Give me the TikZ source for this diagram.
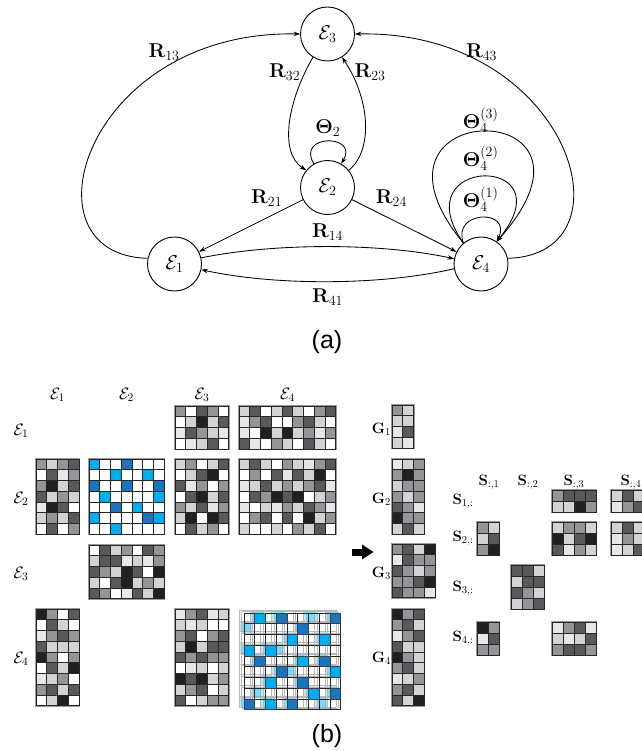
\RequirePackage{fix-cm}
\documentclass[tikz,border=0pt]{standalone}
\usepackage[no-math]{fontspec}
\newfontfamily\capfont{Liberation Sans}
\usetikzlibrary{arrows.meta}

% grey levels and blues used in the cell matrices
\definecolor{c0}{HTML}{FFFFFF}
\definecolor{c1}{HTML}{E6E7E8}
\definecolor{c2}{HTML}{D1D3D4}
\definecolor{c3}{HTML}{939598}
\definecolor{c4}{HTML}{58595B}
\definecolor{c5}{HTML}{231F20}
\definecolor{c6}{HTML}{00AEEF}
\definecolor{c7}{HTML}{1C75BC}

\def\cellsz{10.75}

% #1,#2 top-left corner; #3 columns; #4 rows; #5 cell values, row by row
\newcommand{\cellmat}[5]{%
  \draw[matframe] (#1,#2) rectangle ++({#3*\cellsz},{#4*\cellsz});
  \foreach \rw [count=\rowi from 0] in {#5} {
    \foreach \cv [count=\coli from 0] in \rw {
      \filldraw[cellline, fill=c\cv] ({#1+\coli*\cellsz},{#2+\rowi*\cellsz}) rectangle ++(\cellsz,\cellsz);
    }
  }
}

\tikzset{
  ent/.style={circle, draw, line width=0.9pt, minimum size=54pt,
    inner sep=0pt, font=\fontsize{20}{24}\selectfont},
  rel/.style={line width=0.85pt, -{Stealth[length=6.5pt,width=4.5pt]}},
  glab/.style={inner sep=0pt, font=\fontsize{20}{24}\selectfont},
  hdr/.style={inner sep=0pt, font=\fontsize{16.5}{20}\selectfont},
  mlab/.style={inner sep=0pt, font=\fontsize{15}{18}\selectfont},
  slab/.style={inner sep=0pt, font=\fontsize{15}{18}\selectfont},
  captext/.style={inner sep=0pt, font=\capfont\fontsize{25}{30}\selectfont},
  matframe/.style={draw=black!40, line width=2.2pt},
  cellline/.style={draw=black!85, line width=0.75pt},
  ghost/.style={draw=black!28, line width=0.5pt},
}

\begin{document}
\begin{tikzpicture}[x=1pt,y=-1pt]
\fill[white] (0,0) rectangle (641,751);
\useasboundingbox (0,0) rectangle (641,751);

% ---------------- (a) entity graph ----------------
\node[ent] (E3) at (327.5,34) {$\mathcal{E}_3$};
\node[ent] (E2) at (327.5,187.5) {$\mathcal{E}_2$};
\node[ent] (E1) at (174.5,264) {$\mathcal{E}_1$};
\node[ent] (E4) at (481,264) {$\mathcal{E}_4$};

\draw[rel] (E1.168) .. controls +(-129.6,-3) and +(-214.8,-4) .. (E3.180);
\draw[rel] (E4.12) .. controls +(129.6,-3) and +(214.8,-4) .. (E3.0);
\draw[rel] (E3.238) .. controls +(-24.5,42) and +(-28.2,-18) .. (E2.141);
\draw[rel] (E2.39) .. controls +(24.5,-20) and +(28.2,42) .. (E3.302);
\draw[rel] (E2.120) .. controls +(-18,-30) and +(18,-30) .. (E2.60);
\draw[rel] (E2) -- (E1);
\draw[rel] (E2) -- (E4);
\draw[rel] (E1.13) .. controls +(73.5,-15) and +(-73.5,-16) .. (E4.169);
\draw[rel] (E4.190) .. controls +(-73.5,17) and +(73.5,16) .. (E1.348);
\draw[rel] (E4.130) .. controls +(-12,-33) and +(16,-33) .. (E4.55);
\draw[rel] (E4.130) .. controls +(-62,-88) and +(72,-88) .. (E4.55);
\draw[rel] (E4.130) .. controls +(-122,-148) and +(132,-148) .. (E4.55);

\node[glab] (l13) at (164,52) {$\mathbf{R}_{13}$};
\node[glab] (l43) at (481.6,52) {$\mathbf{R}_{43}$};
\node[glab] (l32) at (284.7,72.5) {$\mathbf{R}_{32}$};
\node[glab] (l23) at (370,72.5) {$\mathbf{R}_{23}$};
\node[glab] (t2) at (327.8,128) {$\mathbf{\Theta}_2$};
\node[glab] (l21) at (266.7,198) {$\mathbf{R}_{21}$};
\node[glab] (l24) at (391.4,198) {$\mathbf{R}_{24}$};
\node[glab] (l14) at (327.6,232) {$\mathbf{R}_{14}$};
\node[glab] (l41) at (327.6,297) {$\mathbf{R}_{41}$};
\node[glab] (t43) at (480.6,120) {$\mathbf{\Theta}_4^{(3)}$};
\node[glab] (t42) at (480.6,158) {$\mathbf{\Theta}_4^{(2)}$};
\node[glab] (t41) at (480.6,199) {$\mathbf{\Theta}_4^{(1)}$};

\node[captext] (capa) at (327,342) {(a)};

% ---------------- (b) block matrices ----------------
\node[hdr] (h1) at (57.5,395) {$\mathcal{E}_1$};
\node[hdr] (h2) at (126.5,395) {$\mathcal{E}_2$};
\node[hdr] (h3) at (202,395) {$\mathcal{E}_3$};
\node[hdr] (h4) at (287.5,395) {$\mathcal{E}_4$};
\node[hdr] (v1) at (21,431) {$\mathcal{E}_1$};
\node[hdr] (v2) at (21,499) {$\mathcal{E}_2$};
\node[hdr] (v3) at (21,574) {$\mathcal{E}_3$};
\node[hdr] (v4) at (21,659) {$\mathcal{E}_4$};

% row E1
\cellmat{175}{406}{5}{4}{{3,0,4,3,0},{0,2,5,2,4},{1,4,3,2,1},{0,1,2,4,0}}
\cellmat{239}{406}{9}{4}{{2,4,0,2,4,2,0,3,4},{1,3,4,0,0,3,4,2,0},{1,0,5,2,5,2,3,1,3},{4,1,0,3,2,0,4,2,0}}
% row E2
\cellmat{36}{459}{4}{7}{{3,2,3,4},{0,4,1,3},{3,5,2,4},{4,2,3,2},{1,5,4,0},{2,3,2,4},{0,4,0,3}}
\cellmat{89}{459}{7}{7}{{6,0,0,7,0,0,0},{0,0,6,0,0,6,0},{7,0,0,7,0,0,7},{0,6,0,0,0,0,6},{0,0,7,0,6,0,0},{6,0,0,0,0,7,6},{0,0,6,0,0,0,0}}
\cellmat{175}{459}{5}{7}{{2,3,0,2,4},{0,2,4,5,0},{4,1,3,0,3},{0,4,5,2,4},{3,2,4,1,3},{2,5,0,5,4},{0,4,2,3,0}}
\cellmat{239}{459}{9}{7}{{2,4,2,0,3,2,1,3,4},{0,3,0,4,1,4,2,5,0},{1,2,4,2,3,2,3,4,1},{0,4,3,5,4,5,0,2,3},{1,0,2,1,3,2,4,3,1},{0,3,4,0,4,0,5,2,3},{2,0,0,2,0,3,2,4,0}}
% row E3
\cellmat{89}{545}{7}{5}{{0,4,2,3,0,4,3},{2,4,4,1,2,1,3},{4,3,2,5,4,0,5},{2,0,4,5,2,3,2},{4,3,0,1,4,2,5}}
% row E4
\cellmat{36}{609}{4}{9}{{5,3,0,4},{0,4,2,0},{1,3,4,3},{4,2,2,2},{5,3,0,3},{0,4,2,5},{1,2,3,0},{3,4,2,4},{0,2,5,0}}
\cellmat{175}{609}{5}{9}{{1,3,4,1,2},{2,1,2,0,0},{3,4,0,3,4},{2,5,2,4,4},{4,3,4,3,3},{0,1,2,0,2},{5,4,5,2,3},{2,3,4,0,2},{4,0,2,3,3}}

% E4-E4 block: stacked frames, earlier ones faint
\foreach \dx/\dy in {-5/-3,-2.5/-1.5} {
  \foreach \c/\r in {1/0,3/0,8/0,5/1,4/2,7/2,0/3,2/3,1/4,5/4,7/4,3/5,8/5,2/6,5/6,6/7,8/7,0/8,2/8,4/8,0/1,6/0,3/3,4/5,1/7,7/8} {
    \fill[c6, opacity=0.28] ({244+\dx+\c*\cellsz},{613+\dy+\r*\cellsz}) rectangle ++(\cellsz,\cellsz);
  }
  \foreach \k in {0,...,9} {
    \draw[ghost] ({244+\dx+\k*\cellsz},{613+\dy}) -- ++(0,{9*\cellsz});
    \draw[ghost] ({244+\dx},{613+\dy+\k*\cellsz}) -- ++({9*\cellsz},0);
  }
}
\foreach \k in {0,...,9} {
  \draw[black!85, line width=0.6pt] ({244+\k*\cellsz},613) -- ++(0,{9*\cellsz});
  \draw[black!85, line width=0.6pt] (244,{613+\k*\cellsz}) -- ++({9*\cellsz},0);
}
\foreach \c/\r/\col in {1/0/c6,3/0/c7,8/0/c7,5/1/c7,4/2/c6,7/2/c6,0/3/c6,2/3/c6,1/4/c7,5/4/c6,7/4/c7,3/5/c7,8/5/c6,2/6/c6,5/6/c7,6/7/c6,8/7/c7,0/8/c7,2/8/c6,4/8/c7} {
  \filldraw[draw=black!75, line width=0.6pt, fill=\col] ({244+\c*\cellsz},{613+\r*\cellsz}) rectangle ++(\cellsz,\cellsz);
}

% arrow towards the factors
\fill (352,548.5) rectangle (363.5,555.5);
\fill (362,544.5) -- (373.5,552) -- (362,559.5) -- cycle;

% G factors
\node[mlab, anchor=east] (g1) at (391,429) {$\mathbf{G}_1$};
\node[mlab, anchor=east] (g2) at (391,499) {$\mathbf{G}_2$};
\node[mlab, anchor=east] (g3) at (391,573) {$\mathbf{G}_3$};
\node[mlab, anchor=east] (g4) at (391,658) {$\mathbf{G}_4$};
\cellmat{392}{405}{2}{4}{{3,2},{2,2},{1,4},{2,1}}
\cellmat{392}{459}{3}{7}{{1,2,3},{3,5,3},{2,3,3},{3,2,3},{4,3,1},{5,3,3},{2,4,2}}
\cellmat{392}{544}{4}{5}{{3,4,2,5},{1,4,3,3},{4,3,2,3},{3,3,4,5},{4,3,3,1}}
\cellmat{392}{609}{3}{9}{{5,3,4},{3,4,2},{1,3,4},{4,2,2},{5,3,2},{3,4,2},{1,2,3},{3,4,2},{4,2,5}}

% S blocks
\node[slab] (s1) at (489,482) {$\mathbf{S}_{:,1}$};
\node[slab] (s2) at (528,482) {$\mathbf{S}_{:,2}$};
\node[slab] (s3) at (574,482) {$\mathbf{S}_{:,3}$};
\node[slab] (s4) at (631,482) {$\mathbf{S}_{:,4}$};
\node[slab] (z1) at (463,501) {$\mathbf{S}_{1,:}$};
\node[slab] (z2) at (463,538) {$\mathbf{S}_{2,:}$};
\node[slab] (z3) at (463,588) {$\mathbf{S}_{3,:}$};
\node[slab] (z4) at (463,638) {$\mathbf{S}_{4,:}$};
\def\cellsz{11}
\cellmat{552}{490}{4}{2}{{3,4,4,4},{2,2,5,3}}
\cellmat{611}{490}{4}{2}{{2,4,2,3},{1,3,4,2}}
\cellmat{477}{522}{2}{3}{{3,2},{2,4},{3,5}}
\cellmat{552}{522}{4}{3}{{2,3,3,2},{5,2,4,5},{4,1,3,2}}
\cellmat{611}{522}{4}{3}{{2,4,2,3},{1,3,2,2},{1,2,4,3}}
\cellmat{511}{565}{3}{4}{{4,4,2},{2,4,4},{4,3,2},{2,3,4}}
\cellmat{477}{622}{2}{3}{{5,3},{1,4},{3,3}}
\cellmat{552}{622}{4}{3}{{1,3,4,1},{2,1,2,4},{3,4,4,3}}

\node[captext] (capb) at (327,736) {(b)};
\end{tikzpicture}
\end{document}
